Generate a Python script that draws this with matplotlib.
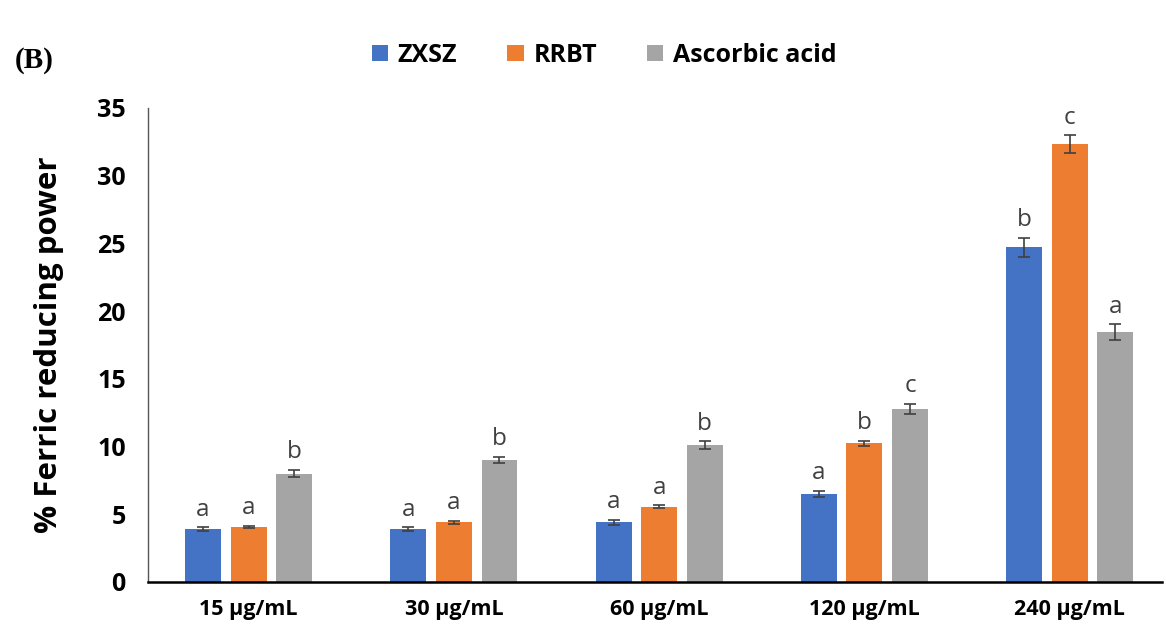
import numpy as np
import matplotlib
matplotlib.use("Agg")
import matplotlib.pyplot as plt

plt.rcParams['font.family'] = ['Open Sans', 'DejaVu Sans']

concs = ["15 µg/mL", "30 µg/mL", "60 µg/mL", "120 µg/mL", "240 µg/mL"]
series = ["ZXSZ", "RRBT", "Ascorbic acid"]

zxsz = [3.9, 3.9, 4.4, 6.5, 24.7]
rrbt = [4.05, 4.4, 5.55, 10.25, 32.3]
ascorbic = [8.0, 9.0, 10.1, 12.8, 18.45]

zxsz_err = [0.15, 0.15, 0.18, 0.22, 0.72]
rrbt_err = [0.1, 0.12, 0.12, 0.18, 0.66]
ascorbic_err = [0.27, 0.25, 0.3, 0.37, 0.57]

zxsz_lab = ["a", "a", "a", "a", "b"]
rrbt_lab = ["a", "a", "a", "b", "c"]
ascorbic_lab = ["b", "b", "b", "c", "a"]

colors = ["#4472C4", "#ED7D31", "#A5A5A5"]

fig = plt.figure(figsize=(11.66, 6.42), dpi=100)
ax = fig.add_axes([0.127, 0.0935, 0.8696, 0.7385])

x = np.arange(len(concs))
width = 0.175
step = 0.222

vals = [zxsz, rrbt, ascorbic]
errs = [zxsz_err, rrbt_err, ascorbic_err]
labs = [zxsz_lab, rrbt_lab, ascorbic_lab]

for i in range(3):
    pos = x + (i - 1) * step
    ax.bar(pos, vals[i], width, color=colors[i], label=series[i],
           yerr=errs[i], capsize=4,
           error_kw=dict(ecolor="#404040", elinewidth=1.2, capthick=1.2))
    # significance letters above the error bars
    for p, v, e, t in zip(pos, vals[i], errs[i], labs[i]):
        ax.annotate(t, (p, v + e), xytext=(0, 4), textcoords="offset points",
                    ha="center", va="bottom", fontsize=17.5, color="#404040")

ax.set_xlim(-0.49, 4.45)
ax.set_ylim(0, 35)
ax.set_yticks(range(0, 36, 5))
ax.set_xticks(x)
ax.set_xticklabels(concs, fontsize=15.5, fontweight="bold")
for t in ax.get_yticklabels():
    t.set_fontsize(18)
    t.set_fontweight("bold")
ax.tick_params(axis="y", length=0, pad=16)
ax.tick_params(axis="x", length=0, pad=12)
ax.set_ylabel("% Ferric reducing power", fontsize=22.5, fontweight="bold", labelpad=24)

ax.spines["top"].set_visible(False)
ax.spines["right"].set_visible(False)
ax.spines["left"].set_color("#555555")
ax.spines["left"].set_linewidth(1.0)
ax.spines["bottom"].set_color("black")
ax.spines["bottom"].set_linewidth(1.8)

ax.legend(loc="center", bbox_to_anchor=(0.45, 1.111), ncol=3, frameon=False,
          prop={"size": 18, "weight": "bold"}, handlelength=0.65, handleheight=0.65,
          handletextpad=0.4, columnspacing=2.0)

fig.text(0.013, 0.895, "(B)", fontsize=21, fontweight="bold",
         family=["Liberation Serif", "DejaVu Serif"])

fig.savefig("out.png", dpi=100)
